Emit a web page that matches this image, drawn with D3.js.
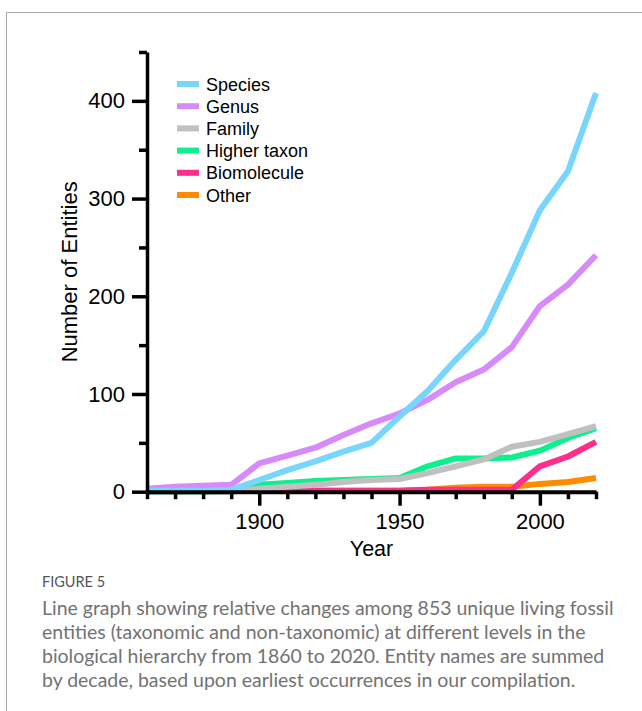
<!DOCTYPE html>
<html>
<head>
<meta charset="utf-8">
<script src="https://cdn.jsdelivr.net/npm/d3@7"></script>
<style>
  html, body { margin: 0; padding: 0; background: #fff; }
  svg { display: block; }
</style>
</head>
<body>
<svg id="chart" width="642" height="711"></svg>
<script>
// ---- data ----
const years = [1860, 1870, 1880, 1890, 1900, 1910, 1920, 1930, 1940, 1950, 1960, 1970, 1980, 1990, 2000, 2010, 2020];
const species     = [1, 1, 1, 2, 12, 22, 31, 41, 50, 77, 103, 135, 164, 224, 288, 328, 408];
const genus       = [3, 5, 6, 7, 29, 37, 45, 58, 70, 80, 94, 112, 125, 148, 190, 212, 242];
const family      = [0, 0, 0, 0, 3, 5, 7, 10, 12, 13, 19, 26, 33, 46, 51, 59, 67];
const higherTaxon = [0, 0, 0, 1, 7, 9, 11, 12, 13, 14, 26, 34, 34, 35, 42, 55, 65];
const biomolecule = [1, 1, 1, 1, 1, 1, 1, 1, 1, 1, 2, 2, 2, 2, 26, 36, 51];
const other       = [1, 1, 1, 1, 1, 1, 1, 1, 1, 1, 2, 4, 5, 5, 8, 10, 14];
const seriesNames = ["Species", "Genus", "Family", "Higher taxon", "Biomolecule", "Other"];
const seriesColors = ["#78d5fd", "#d78afa", "#c0c0c0", "#0df08d", "#ff2d8c", "#ff8c00"];
const yTicks = [0, 50, 100, 150, 200, 250, 300, 350, 400, 450];
const yMajor = [0, 100, 200, 300, 400];
const xTicks = [1860, 1870, 1880, 1890, 1900, 1910, 1920, 1930, 1940, 1950, 1960, 1970, 1980, 1990, 2000, 2010, 2020];
const xMajor = [1900, 1950, 2000];
const captionTitle = "FIGURE 5";
const captionLines = [
  "Line graph showing relative changes among 853 unique living fossil",
  "entities (taxonomic and non-taxonomic) at different levels in the",
  "biological hierarchy from 1860 to 2020. Entity names are summed",
  "by decade, based upon earliest occurrences in our compilation."
];

const seriesValues = [species, genus, family, higherTaxon, biomolecule, other];

const svg = d3.select("#chart");
const FONT = "'Liberation Sans', Arial, Helvetica, sans-serif";

// frame
svg.append("path")
  .attr("d", "M6.5,711 V12.5 H642")
  .attr("fill", "none").attr("stroke", "#a8a8a8").attr("stroke-width", 1);

const x = d3.scaleLinear().domain([1860, 2020]).range([147, 596]);
const y = d3.scaleLinear().domain([0, 450]).range([491.7, 52]);

// lines (drawn bottom-up: Other first, Species last)
const line = d3.line().x((d, i) => x(years[i])).y(d => y(d));
const order = [5, 4, 3, 2, 1, 0];
svg.append("g").selectAll("path")
  .data(order)
  .join("path")
  .attr("d", k => line(seriesValues[k]))
  .attr("fill", "none")
  .attr("stroke", k => seriesColors[k])
  .attr("stroke-width", 6)
  .attr("stroke-linejoin", "round")
  .attr("stroke-linecap", "butt");

// y axis
const yAxis = d3.axisLeft(y)
  .tickValues(yTicks)
  .tickSize(15)
  .tickSizeOuter(0)
  .tickPadding(7)
  .tickFormat(d => yMajor.includes(d) ? d : "");
const gy = svg.append("g").attr("transform", "translate(147,0)").call(yAxis);
gy.select(".domain").attr("stroke-width", 3.5).attr("stroke", "#000");
gy.selectAll(".tick line").attr("stroke-width", 3.5).attr("stroke", "#000")
  .attr("x2", d => yMajor.includes(d) ? -15 : -8);
gy.selectAll(".tick text").attr("font-family", FONT).attr("font-size", 22).attr("fill", "#000");

// x axis
const xAxis = d3.axisBottom(x)
  .tickValues(xTicks)
  .tickSize(14)
  .tickSizeOuter(0)
  .tickPadding(8)
  .tickFormat(d => xMajor.includes(d) ? d : "");
const gx = svg.append("g").attr("transform", "translate(0,491.7)").call(xAxis);
gx.select(".domain").attr("stroke-width", 4).attr("stroke", "#000");
gx.selectAll(".tick line").attr("stroke-width", 3.5).attr("stroke", "#000")
  .attr("y2", d => xMajor.includes(d) ? 14 : 7.5);
gx.selectAll(".tick text").attr("font-family", FONT).attr("font-size", 22).attr("fill", "#000");

// axis titles
svg.append("text")
  .attr("x", (x.range()[0] + x.range()[1]) / 2).attr("y", 556)
  .attr("text-anchor", "middle")
  .attr("font-family", FONT).attr("font-size", 21.5).attr("fill", "#000")
  .text("Year");
svg.append("text")
  .attr("transform", `translate(77,${(y(0) + y(450)) / 2}) rotate(-90)`)
  .attr("text-anchor", "middle")
  .attr("font-family", FONT).attr("font-size", 22).attr("fill", "#000")
  .text("Number of Entities");

// legend
const lg = svg.append("g").attr("transform", "translate(177,84)");
const items = lg.selectAll("g").data(seriesNames).join("g")
  .attr("transform", (d, i) => `translate(0,${i * 22.2})`);
items.append("rect")
  .attr("x", 0).attr("y", -3).attr("width", 22).attr("height", 6)
  .attr("fill", (d, i) => seriesColors[i]);
items.append("text")
  .attr("x", 29).attr("y", 6.5)
  .attr("font-family", FONT).attr("font-size", 18).attr("fill", "#000")
  .text(d => d);

// caption
svg.append("text")
  .attr("x", 42).attr("y", 587)
  .attr("font-family", "Lato, 'Open Sans', sans-serif").attr("font-size", 14.5)
  .attr("fill", "#555")
  .text(captionTitle);
const cap = svg.append("g");
const capTexts = cap.selectAll("text").data(captionLines).join("text")
  .attr("x", 42).attr("y", (d, i) => 615 + i * 24)
  .attr("font-family", "Lato, 'Open Sans', sans-serif").attr("font-size", 18)
  .attr("fill", "#727272")
  .text(d => d);
// fit first line to its target width
const w0 = capTexts.node().getComputedTextLength();
const fs = 18 * 572 / w0;
capTexts.attr("font-size", fs);
</script>
</body>
</html>
